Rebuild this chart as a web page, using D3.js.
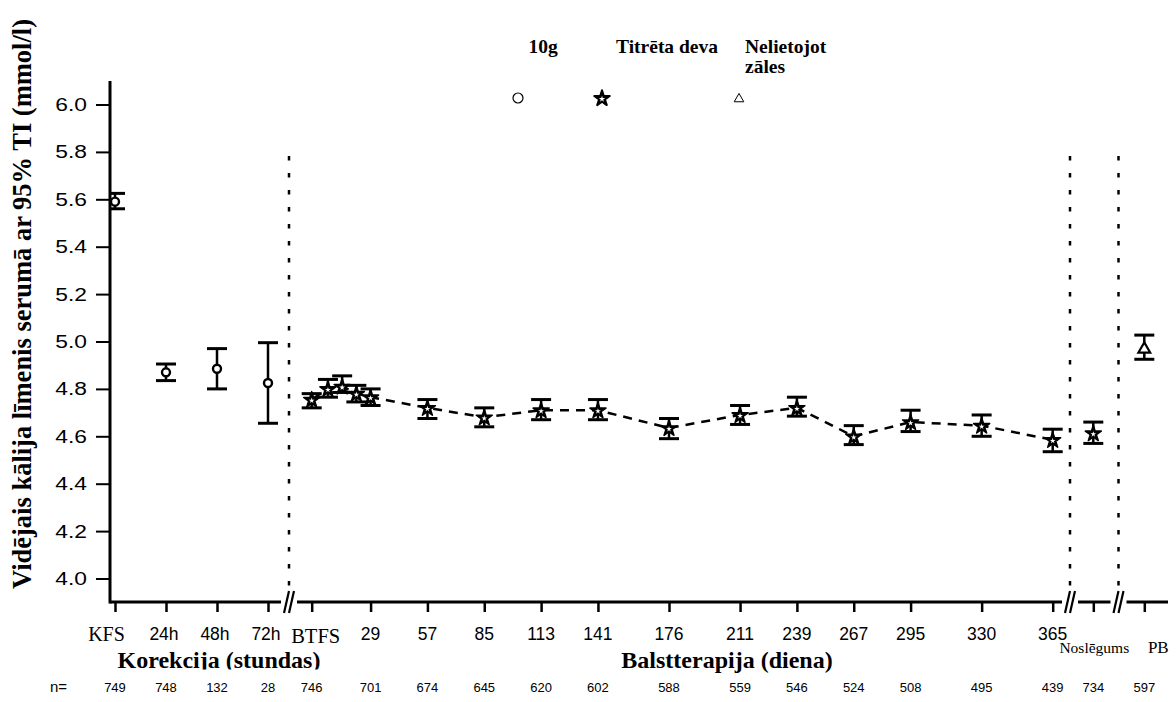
<!DOCTYPE html>
<html>
<head>
<meta charset="utf-8">
<script src="https://cdn.jsdelivr.net/npm/d3@7"></script>
<style>
  html, body { margin: 0; padding: 0; background: #fff; }
  svg { display: block; }
</style>
</head>
<body>
<script>
// ---------------- DATA ----------------
const corrLabels = ["KFS", "24h", "48h", "72h"];
const corrHours  = [0, 24, 48, 72];
const corrMean   = [5.59, 4.87, 4.885, 4.825];
const corrLo     = [5.56, 4.835, 4.80, 4.655];
const corrHi     = [5.625, 4.905, 4.97, 4.995];
const corrN      = [749, 748, 132, 28];

const treatDays  = [0, 8, 15, 22, 29, 57, 85, 113, 141, 176, 211, 239, 267, 295, 330, 365];
const treatMean  = [4.755, 4.80, 4.81, 4.78, 4.765, 4.72, 4.68, 4.71, 4.71, 4.635, 4.69, 4.72, 4.60, 4.66, 4.645, 4.585];
const treatLo    = [4.72, 4.765, 4.785, 4.745, 4.73, 4.675, 4.64, 4.67, 4.67, 4.59, 4.65, 4.685, 4.565, 4.62, 4.60, 4.535];
const treatHi    = [4.78, 4.84, 4.855, 4.815, 4.80, 4.755, 4.72, 4.755, 4.755, 4.675, 4.73, 4.765, 4.645, 4.71, 4.69, 4.63];

const dayTickDays   = [0, 29, 57, 85, 113, 141, 176, 211, 239, 267, 295, 330, 365];
const dayTickLabels = ["BTFS", "29", "57", "85", "113", "141", "176", "211", "239", "267", "295", "330", "365"];
const dayTickN      = [746, 701, 674, 645, 620, 602, 588, 559, 546, 524, 508, 495, 439];

const endLabels = ["Noslēgums", "PB"];
const endMean   = [4.613, 4.972];
const endLo     = [4.57, 4.925];
const endHi     = [4.66, 5.027];
const endN      = [734, 597];
const endSymbol = ["star", "triangle"];

const yTicks = [4.0, 4.2, 4.4, 4.6, 4.8, 5.0, 5.2, 5.4, 5.6, 5.8, 6.0];

const legendLabels  = ["10g", "Titrēta deva", "Nelietojot|zāles"];
const legendSymbols = ["circle", "star", "triangle"];

const yTitle = "Vidējais kālija līmenis serumā ar 95% TI (mmol/l)";
const corrTitle = "Korekcija (stundas)";
const treatTitle = "Balstterapija (diena)";

// ---------------- LAYOUT ----------------
const W = 1176, H = 702;
const axisX = 110, axisY = 602, axisTop = 81, axisRight = 1168;
const SANS = "Liberation Sans, Arial, sans-serif";
const SERIF = "Liberation Serif, Times New Roman, serif";

const y = d3.scaleLinear().domain([4.0, 6.0]).range([578.5, 104.5]);
const xCorr = d3.scaleLinear().domain([0, 72]).range([115, 268]);
const xDay = d3.scaleLinear().domain([0, 365]).range([311.7, 1052.7]);
const xEnd = d3.scalePoint().domain(endLabels).range([1093.3, 1144.3]);

const breaks = [289, 1070, 1118.5];

const svg = d3.select("body").append("svg").attr("width", W).attr("height", H);

const defs = svg.append("defs");
defs.append("clipPath").attr("id", "plotclip")
  .append("rect").attr("x", axisX + 1).attr("y", 0).attr("width", W).attr("height", axisY);
defs.append("clipPath").attr("id", "titleclip")
  .append("rect").attr("x", 0).attr("y", 0).attr("width", W).attr("height", 669.5);

// ---------------- AXES ----------------
const yAxis = d3.axisLeft(y).tickValues(yTicks).tickFormat(d3.format(".1f")).tickSize(14).tickPadding(8);
const gy = svg.append("g").attr("transform", `translate(${axisX},0)`).call(yAxis);
gy.select(".domain").remove();
gy.selectAll(".tick line").attr("stroke", "#000").attr("stroke-width", 2);
gy.selectAll(".tick text").attr("fill", "#000").attr("font-family", SANS).style("font-size", "19px")
  .attr("x", 0).attr("transform", "translate(-23,0) scale(1.2,1)");
svg.append("line").attr("x1", axisX).attr("x2", axisX).attr("y1", axisTop).attr("y2", axisY + 1.5)
  .attr("stroke", "#000").attr("stroke-width", 3);

svg.append("line").attr("x1", axisX).attr("x2", axisRight).attr("y1", axisY).attr("y2", axisY)
  .attr("stroke", "#000").attr("stroke-width", 3);

function styleXAxis(g) {
  g.select(".domain").remove();
  g.selectAll(".tick line").attr("stroke", "#000").attr("stroke-width", 2.5);
  g.selectAll(".tick text").remove();
}
svg.append("g").attr("transform", `translate(0,${axisY})`)
  .call(d3.axisBottom(xCorr).tickValues(corrHours).tickSize(10)).call(styleXAxis);
svg.append("g").attr("transform", `translate(0,${axisY})`)
  .call(d3.axisBottom(xDay).tickValues(dayTickDays).tickSize(10)).call(styleXAxis);
svg.append("g").attr("transform", `translate(0,${axisY})`)
  .call(d3.axisBottom(xEnd).tickSize(10)).call(styleXAxis);

// break marks
breaks.forEach(bx => {
  svg.append("rect").attr("x", bx - 8).attr("y", axisY - 3).attr("width", 16).attr("height", 6).attr("fill", "#fff");
  [-2.5, 2.5].forEach(o => {
    svg.append("line")
      .attr("x1", bx + o - 2.5).attr("y1", axisY + 11)
      .attr("x2", bx + o + 2.5).attr("y2", axisY - 11)
      .attr("stroke", "#000").attr("stroke-width", 2.2);
  });
});

// dotted vertical separators
breaks.forEach(bx => {
  svg.append("line").attr("x1", bx).attr("x2", bx).attr("y1", 156).attr("y2", axisY - 12)
    .attr("stroke", "#000").attr("stroke-width", 2.5).attr("stroke-dasharray", "4.5,12.5");
});

// tick labels
const tickLabelY = 640;
corrLabels.forEach((t, i) => {
  const serif = t === "KFS";
  svg.append("text").attr("x", xCorr(corrHours[i]) - (serif ? 8.5 : 2)).attr("y", serif ? 641 : tickLabelY)
    .attr("text-anchor", "middle").attr("font-family", serif ? SERIF : SANS)
    .style("font-size", serif ? "20px" : "17.5px").text(t);
});
dayTickLabels.forEach((t, i) => {
  const serif = t === "BTFS";
  svg.append("text").attr("x", xDay(dayTickDays[i]) + (serif ? 4 : 0)).attr("y", serif ? 643 : tickLabelY)
    .attr("text-anchor", "middle").attr("font-family", serif ? SERIF : SANS)
    .style("font-size", serif ? "20.5px" : "17.5px").text(t);
});
svg.append("text").attr("x", xEnd("Noslēgums") + 1).attr("y", 653).attr("text-anchor", "middle")
  .attr("font-family", SERIF).style("font-size", "15.5px").text(endLabels[0]);
svg.append("text").attr("x", xEnd("PB") + 14).attr("y", 653).attr("text-anchor", "middle")
  .attr("font-family", SERIF).style("font-size", "17px").text(endLabels[1]);

// axis titles
svg.append("text").attr("x", 219).attr("y", 668).attr("text-anchor", "middle")
  .attr("clip-path", "url(#titleclip)")
  .attr("font-family", SERIF).attr("font-weight", "bold")
  .style("font-size", "24px").text(corrTitle);
svg.append("text").attr("x", 727).attr("y", 668).attr("text-anchor", "middle")
  .attr("font-family", SERIF).attr("font-weight", "bold")
  .style("font-size", "24px").text(treatTitle);

svg.append("text").attr("transform", "translate(31,304) rotate(-90)").attr("text-anchor", "middle")
  .attr("font-family", SERIF).attr("font-weight", "bold")
  .style("font-size", "26.5px").text(yTitle);

// n row
const nY = 692;
svg.append("text").attr("x", 50).attr("y", nY).attr("font-family", SANS)
  .style("font-size", "15px").text("n=");
corrN.forEach((n, i) => svg.append("text").attr("x", xCorr(corrHours[i])).attr("y", nY).attr("text-anchor", "middle")
  .attr("font-family", SANS).style("font-size", "13px").text(n));
dayTickN.forEach((n, i) => svg.append("text").attr("x", xDay(dayTickDays[i])).attr("y", nY).attr("text-anchor", "middle")
  .attr("font-family", SANS).style("font-size", "13px").text(n));
endN.forEach((n, i) => svg.append("text").attr("x", xEnd(endLabels[i])).attr("y", nY).attr("text-anchor", "middle")
  .attr("font-family", SANS).style("font-size", "13px").text(n));

// ---------------- MARKS ----------------
const plot = svg.append("g").attr("clip-path", "url(#plotclip)");

function errorBar(g, x, lo, hi, capW) {
  g.append("line").attr("x1", x).attr("x2", x).attr("y1", y(hi)).attr("y2", y(lo)).attr("stroke", "#000").attr("stroke-width", 2.5);
  [lo, hi].forEach(v => g.append("line").attr("x1", x - capW / 2).attr("x2", x + capW / 2)
    .attr("y1", y(v)).attr("y2", y(v)).attr("stroke", "#000").attr("stroke-width", 3));
}
function drawSymbol(g, type, x, yy, big) {
  if (type === "circle") {
    g.append("circle").attr("cx", x).attr("cy", yy).attr("r", big ? 5 : 4)
      .attr("fill", "#fff").attr("stroke", "#000").attr("stroke-width", big ? 1.2 : 2.4);
  } else if (type === "star") {
    g.append("path").attr("d", d3.symbol(d3.symbolStar, big ? 75 : 80)())
      .attr("transform", `translate(${x},${yy + 0.5})`).attr("fill", "#000").attr("stroke", "#000")
      .attr("stroke-width", big ? 2 : 1.5).attr("stroke-linejoin", "round");
    g.append("path").attr("d", d3.symbol(d3.symbolStar, big ? 12 : 10)())
      .attr("transform", `translate(${x},${yy + 1})`).attr("fill", "#fff");
  } else if (type === "triangle") {
    g.append("path").attr("d", d3.symbol(d3.symbolTriangle, big ? 40 : 60)())
      .attr("transform", `translate(${x},${yy + 1})`).attr("fill", "#fff").attr("stroke", "#000").attr("stroke-width", big ? 1 : 2.2);
  }
}

corrHours.forEach((h, i) => {
  errorBar(plot, xCorr(h), corrLo[i], corrHi[i], 20);
  drawSymbol(plot, "circle", xCorr(h), y(corrMean[i]), false);
});

const line = d3.line().x((d, i) => xDay(treatDays[i])).y(d => y(d));
plot.append("path").datum(treatMean).attr("d", line).attr("fill", "none")
  .attr("stroke", "#000").attr("stroke-width", 2.5).attr("stroke-dasharray", "9,7");

treatDays.forEach((d, i) => {
  errorBar(plot, xDay(d), treatLo[i], treatHi[i], 20);
  drawSymbol(plot, "star", xDay(d), y(treatMean[i]), false);
});

endLabels.forEach((l, i) => {
  errorBar(plot, xEnd(l), endLo[i], endHi[i], 20);
  drawSymbol(plot, endSymbol[i], xEnd(l), y(endMean[i]), false);
});

// ---------------- LEGEND ----------------
const legX = [543, 667, 745];
const legSymX = [518, 602, 739];
legendLabels.forEach((t, i) => {
  const parts = t.split("|");
  parts.forEach((p, j) => {
    svg.append("text").attr("x", legX[i]).attr("y", 53 + j * 20)
      .attr("text-anchor", i === 2 ? "start" : "middle")
      .attr("font-family", SERIF).attr("font-weight", "bold")
      .style("font-size", "19.5px").text(p);
  });
  drawSymbol(svg, legendSymbols[i], legSymX[i], 98, true);
});
</script>
</body>
</html>
